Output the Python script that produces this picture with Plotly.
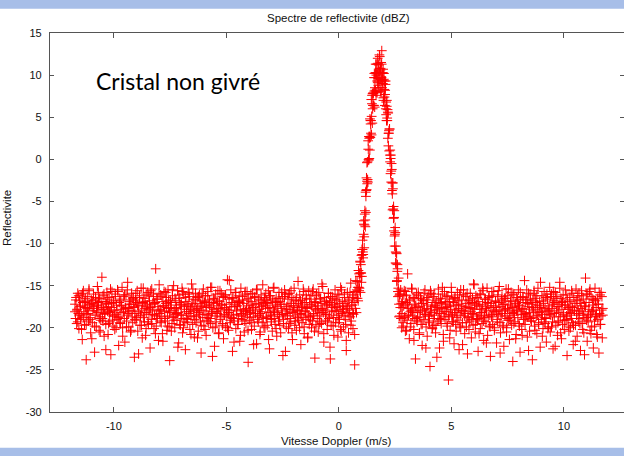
import numpy as np
import plotly.graph_objects as go

# ---- data ----
x_ticks = [-10, -5, 0, 5, 10]
y_ticks = [-30, -25, -20, -15, -10, -5, 0, 5, 10, 15]

left_x_range = (-11.73, 0.70)
peak_x_range = (0.72, 2.79)
right_x_range = (2.805, 11.73)
peak_b_x_range = (0.90, 2.70)

noise_left_y = [
-17.2,-18.9,-16.4,-19.5,-17.8,-15.9,-18.3,-20.1,-16.8,-17.5,-19.0,-16.1,-18.6,-21.4,-17.0,-15.6,-18.1,-19.7,-16.9,-17.6,
-23.8,-18.4,-16.3,-17.9,-19.2,-15.4,-17.3,-18.8,-20.6,-16.7,-17.1,-19.4,-18.0,-16.0,-17.7,-22.9,-18.5,-16.6,-19.9,-17.4,
-15.1,-18.2,-17.0,-20.3,-16.5,-18.7,-19.1,-17.6,-14.0,-18.9,-16.2,-17.8,-21.0,-18.3,-16.9,-19.6,-17.2,-15.8,-18.0,-20.8,
-17.5,-16.4,-19.3,-18.1,-23.2,-17.1,-15.7,-18.6,-19.8,-16.8,-17.9,-20.2,-16.0,-18.4,-17.3,-19.0,-15.5,-18.8,-22.1,-17.0,
-16.6,-19.5,-18.2,-17.4,-15.2,-20.0,-17.8,-16.3,-18.9,-21.7,-17.6,-16.1,-19.2,-18.5,-14.6,-17.7,-19.9,-16.9,-18.0,-20.5,
-17.2,-15.9,-18.7,-19.4,-16.4,-17.5,-23.5,-18.3,-16.7,-19.1,-17.0,-15.6,-20.4,-18.1,-17.4,-16.2,-19.7,-18.6,-15.3,-17.9,
-21.2,-17.1,-18.8,-16.5,-19.3,-17.7,-20.9,-16.0,-18.2,-17.3,-15.8,-19.6,-18.4,-16.8,-22.4,-17.6,-19.0,-15.4,-18.0,-17.2,
-16.3,-20.1,-18.5,-17.0,-13.0,-19.8,-16.6,-18.9,-17.5,-21.5,-15.9,-18.3,-17.8,-16.1,-19.4,-18.7,-20.7,-16.9,-17.4,-15.7,
-18.1,-19.2,-17.1,-16.4,-20.3,-18.6,-15.5,-17.7,-19.9,-23.9,-16.7,-18.0,-17.3,-19.5,-16.2,-18.8,-15.0,-17.9,-20.0,-18.4,
-16.8,-17.6,-19.1,-15.6,-18.2,-21.8,-17.0,-16.5,-19.7,-18.5,-17.2,-15.3,-20.6,-18.9,-16.0,-17.5,-19.3,-22.6,-16.9,-18.1,
-17.4,-19.0,-15.8,-18.3,-16.3,-20.2,-17.8,-18.7,-14.8,-17.1,-19.6,-16.6,-18.0,-21.1,-17.3,-15.9,-19.4,-18.6,-16.4,-17.7,
-20.4,-18.2,-16.1,-17.9,-19.2,-23.0,-17.5,-16.8,-18.8,-15.4,-19.8,-17.0,-18.4,-16.2,-20.9,-17.6,-19.1,-15.7,-18.5,-17.2,
-16.7,-18.9,-19.5,-17.4,-15.2,-18.1,-20.0,-16.5,-17.8,-22.2,-18.6,-16.0,-19.3,-17.1,-18.3,-15.6,-20.7,-17.7,-16.9,-19.0,
-18.0,-15.9,-17.3,-19.7,-16.3,-21.3,-18.4,-17.6,-16.1,-19.9,-17.2,-18.7,-14.3,-18.2,-20.3,-16.6,-17.9,-19.4,-15.5,-18.8,
-17.0,-22.8,-16.4,-18.5,-19.2,-17.5,-15.8,-20.1,-18.0,-16.8,-17.4,-19.6,-18.9,-16.2,-21.6,-17.8,-15.3,-18.3,-19.0,-16.7,
-18.6,-17.1,-20.5,-16.0,-18.1,-19.5,-17.7,-15.7,-18.4,-24.1,-16.5,-17.9,-19.1,-18.2,-16.9,-20.2,-17.3,-15.9,-18.7,-17.6,
-19.8,-16.3,-18.0,-17.2,-21.9,-15.4,-18.5,-19.3,-16.6,-17.8,-20.8,-18.3,-16.1,-17.5,-19.4,-14.9,-18.8,-17.0,-16.4,-20.0,
-17.4,-18.9,-16.8,-19.7,-17.1,-15.6,-18.2,-22.5,-17.6,-16.2,-19.0,-18.6,-20.4,-16.7,-17.9,-15.2,-18.1,-19.6,-17.3,-16.5,
-21.0,-18.4,-17.0,-19.2,-15.8,-18.7,-16.9,-20.6,-17.7,-18.0,-16.3,-23.3,-19.5,-17.2,-15.5,-18.5,-16.0,-19.9,-17.5,-18.3,
-16.6,-20.1,-17.8,-15.9,-18.9,-19.3,-17.1,-16.4,-21.4,-18.2,-17.4,-15.3,-19.7,-18.6,-16.8,-20.3,-17.6,-18.0,-14.5,-19.1,
-17.9,-16.1,-18.4,-22.0,-17.3,-19.4,-16.7,-18.8,-15.7,-20.7,-17.0,-18.1,-19.0,-16.5,-17.7,-21.2,-18.5,-15.6,-19.6,-17.2,
-18.7,-16.2,-20.0,-17.5,-19.2,-15.4,-18.3,-16.9,-23.6,-17.8,-19.8,-16.0,-18.0,-17.4,-20.5,-15.8,-18.6,-19.3,-16.6,-17.1,
-19.5,-17.7,-15.1,-18.2,-21.7,-16.4,-17.9,-19.1,-18.4,-16.8,-20.2,-17.3,-15.9,-18.9,-17.0,-22.3,-16.3,-19.7,-18.1,-17.6,
-16.5,-18.8,-20.9,-17.2,-15.5,-19.4,-18.0,-16.7,-17.5,-21.1,-18.5,-16.1,-19.0,-17.8,-15.2,-20.4,-18.3,-16.9,-17.4,-19.9,
-18.6,-16.0,-17.1,-19.6,-22.7,-17.7,-15.8,-18.2,-20.6,-16.6,-17.9,-18.7,-14.7,-19.2,-17.3,-16.4,-20.1,-18.4,-17.0,-24.4,
]

noise_left_b_y = [
-18.1,-16.7,-17.9,-19.3,-16.2,-18.5,-17.4,-20.2,-15.9,-18.8,-17.0,-16.5,-19.6,-17.7,-18.3,-15.6,-19.0,-17.2,-21.3,-16.8,
-17.5,-19.8,-16.4,-18.0,-17.3,-15.8,-18.9,-20.5,-16.9,-17.8,-19.2,-16.0,-18.4,-22.6,-17.1,-16.6,-19.5,-18.2,-15.4,-17.6,
-19.1,-17.0,-18.6,-16.3,-20.0,-17.9,-15.7,-18.7,-19.4,-16.8,-17.4,-21.0,-18.1,-16.1,-17.7,-19.9,-15.5,-18.3,-17.2,-16.7,
-20.3,-18.0,-16.5,-17.6,-19.0,-15.9,-18.8,-17.3,-23.1,-16.4,-18.5,-19.7,-17.0,-15.3,-18.2,-16.9,-20.1,-17.5,-19.3,-16.2,
-17.8,-15.6,-19.5,-18.4,-16.0,-17.1,-20.7,-18.6,-16.6,-17.9,-14.9,-19.2,-18.0,-16.3,-21.6,-17.4,-18.9,-15.8,-17.6,-19.8,
-16.8,-18.2,-17.0,-20.4,-15.5,-18.7,-19.1,-16.5,-17.7,-18.3,-22.3,-16.1,-19.6,-17.3,-18.5,-15.7,-20.0,-17.8,-16.4,-18.9,
-19.4,-17.2,-16.0,-18.1,-20.8,-17.5,-15.4,-18.6,-19.0,-16.7,-17.9,-21.2,-16.3,-18.4,-17.1,-19.7,-15.9,-18.0,-16.9,-20.2,
-17.4,-18.8,-16.2,-19.3,-17.6,-15.2,-18.3,-23.4,-17.0,-16.6,-19.9,-18.1,-16.8,-17.7,-20.6,-15.6,-18.7,-17.3,-19.5,-16.4,
-18.5,-16.1,-17.8,-20.0,-18.2,-14.4,-19.1,-17.5,-16.5,-18.9,-21.7,-17.2,-15.8,-18.4,-19.6,-16.9,-17.0,-20.9,-18.6,-16.3,
-17.9,-19.2,-15.7,-18.0,-16.7,-20.3,-17.4,-18.8,-16.0,-19.4,-17.6,-22.0,-16.4,-18.3,-15.5,-19.0,-17.1,-18.6,-20.5,-16.8,
-18.1,-17.3,-19.8,-16.6,-15.9,-18.7,-17.7,-21.4,-16.2,-18.5,-19.3,-17.0,-15.3,-18.9,-16.9,-20.1,-17.5,-18.2,-16.5,-19.7,
-17.2,-15.8,-18.4,-19.0,-16.3,-22.8,-17.8,-18.6,-16.0,-19.5,-17.4,-15.6,-20.6,-18.1,-16.7,-17.9,-19.2,-16.4,-18.8,-17.1,
-20.0,-16.8,-18.3,-17.5,-15.4,-19.9,-18.0,-16.1,-17.6,-21.1,-18.7,-16.6,-19.1,-17.3,-15.7,-18.5,-20.4,-17.0,-16.2,-18.9,
-17.7,-19.6,-16.5,-18.2,-14.8,-17.9,-20.7,-16.9,-18.4,-17.2,-19.3,-15.9,-18.6,-23.7,-17.4,-16.3,-19.8,-18.0,-16.7,-17.6,
-18.8,-16.0,-19.4,-17.1,-20.2,-15.5,-18.1,-17.8,-16.4,-19.0,-21.5,-17.5,-16.8,-18.5,-15.8,-19.7,-17.3,-18.3,-16.1,-20.8,
]

peak_y = [
-15.7,-17.7,-14.4,-16.5,-18.2,-15.5,-14.5,-16.5,-15.2,-16.8,-13.2,-15.2,-13.6,-15.3,-13.9,-12.1,-15.8,-12.5,-13.5,-11.4,
-13.9,-11.3,-9.6,-11.0,-11.3,-8.9,-7.7,-10.5,-7.8,-6.1,-7.2,-3.9,-6.3,-3.7,-3.6,-0.4,-2.9,-0.3,-2.7,1.2,
0.0,2.7,0.1,2.7,4.8,2.6,4.2,3.1,7.1,5.1,6.6,4.3,7.8,6.4,7.8,6.4,9.7,8.1,6.2,9.7,
8.2,11.3,8.0,10.0,11.3,7.9,10.3,9.1,11.4,9.6,11.2,8.5,10.4,12.2,9.5,10.6,8.1,11.5,9.7,12.9,
8.5,10.2,9.0,10.7,7.0,9.5,8.3,9.3,6.4,8.2,8.9,6.0,6.8,4.6,7.0,4.9,5.9,2.5,5.5,3.1,
3.1,1.0,3.6,0.5,1.1,-1.7,0.5,-1.4,-0.5,-3.7,-2.8,-6.0,-3.5,-5.9,-5.6,-8.5,-6.1,-9.1,-8.9,-8.7,
-12.3,-10.3,-12.4,-11.2,-14.4,-13.3,-13.0,-16.3,-15.3,-14.1,-17.2,-16.2,-18.6,-16.0,-17.6,-15.5,-18.9,-17.1,-20.0,
]

peak_b_y = [
-15.6,-13.5,-12.2,-13.5,-14.6,-10.7,-10.7,-11.7,-7.3,-9.2,-6.5,-8.0,-4.4,-2.2,-2.6,-2.4,2.2,-0.1,2.5,1.1,
4.6,4.6,2.9,7.6,6.0,7.9,6.4,10.2,8.5,10.3,7.6,10.2,9.3,12.0,8.8,10.5,12.4,9.3,10.8,8.0,
11.3,9.4,10.3,7.3,10.2,7.4,7.7,9.3,5.3,6.3,4.6,5.6,1.6,3.4,3.6,-0.3,0.1,-2.7,-1.2,-4.1,
-2.8,-7.0,-6.9,-10.3,-8.1,-11.0,-11.1,-14.5,-12.5,-15.7,-15.7,-18.7,-16.0,
]

noise_right_y = [
-18.3,-16.9,-19.8,-17.4,-15.6,-18.8,-20.4,-17.0,-16.2,-19.1,-13.6,-18.5,-17.7,-21.3,-16.6,-18.1,-19.5,-15.3,-17.9,-18.6,
-16.4,-20.2,-17.2,-18.9,-23.7,-17.6,-16.0,-19.3,-18.2,-15.8,-17.5,-20.8,-18.7,-16.5,-19.6,-17.1,-22.1,-18.0,-16.8,-19.0,
-17.8,-15.5,-18.4,-19.9,-16.7,-21.0,-17.3,-18.6,-16.1,-19.4,-24.6,-17.9,-15.9,-18.2,-20.0,-17.0,-16.3,-19.7,-18.5,-17.4,
-20.6,-16.8,-18.0,-17.6,-19.2,-15.4,-18.9,-22.4,-17.1,-16.5,-19.5,-18.3,-16.0,-17.7,-21.6,-18.7,-15.7,-19.0,-17.2,-18.1,
-16.2,-19.8,-17.5,-26.2,-18.4,-16.9,-20.3,-17.8,-15.2,-18.6,-19.3,-16.6,-17.0,-21.9,-18.2,-16.4,-19.6,-17.3,-18.8,-15.8,
-19.1,-17.7,-22.6,-16.1,-18.5,-20.0,-17.4,-16.7,-19.4,-18.0,-15.5,-17.9,-20.7,-18.3,-16.3,-19.9,-17.1,-23.1,-18.7,-16.8,
-17.6,-19.2,-15.9,-18.1,-21.2,-17.0,-16.5,-19.7,-18.4,-14.9,-17.8,-20.5,-16.2,-18.9,-17.3,-19.0,-22.8,-16.9,-18.6,-17.5,
-20.1,-16.0,-18.2,-19.5,-17.2,-15.6,-21.5,-18.8,-16.6,-17.7,-19.3,-18.0,-15.3,-20.9,-17.4,-16.4,-19.8,-18.5,-23.4,-17.1,
-18.7,-16.3,-19.6,-17.9,-15.7,-20.3,-18.1,-16.8,-17.6,-21.8,-19.0,-16.1,-18.4,-17.0,-15.1,-19.4,-20.6,-17.5,-16.7,-18.3,
-17.2,-19.9,-22.2,-16.5,-18.6,-17.8,-15.4,-20.0,-18.9,-16.2,-19.1,-17.3,-21.4,-18.0,-16.9,-15.8,-19.7,-17.6,-24.0,-18.2,
-16.0,-18.5,-19.3,-17.1,-20.8,-16.4,-17.9,-18.8,-15.5,-19.5,-17.4,-22.9,-16.6,-18.1,-20.2,-17.7,-16.3,-19.0,-18.4,-14.4,
-19.6,-17.0,-18.3,-16.7,-21.1,-18.7,-15.9,-17.5,-20.4,-16.1,-18.9,-19.2,-17.2,-23.8,-16.8,-18.0,-15.6,-19.8,-17.8,-16.5,
-18.6,-20.7,-17.3,-15.3,-19.4,-18.2,-16.9,-22.3,-17.6,-19.0,-16.2,-18.4,-20.1,-17.1,-15.7,-18.8,-19.5,-16.4,-21.7,-17.9,
-16.6,-18.1,-19.9,-17.4,-15.2,-20.5,-18.5,-16.0,-17.7,-19.3,-22.5,-16.8,-18.3,-17.0,-15.8,-19.7,-18.0,-16.3,-20.9,-17.5,
-19.2,-17.2,-14.6,-18.7,-16.5,-21.3,-17.8,-19.6,-16.1,-18.4,-20.2,-17.3,-15.5,-19.1,-18.6,-23.3,-16.7,-17.6,-19.8,-18.2,
-16.9,-20.0,-17.5,-18.9,-15.9,-19.4,-22.0,-16.4,-18.0,-17.1,-19.7,-15.4,-18.5,-21.0,-16.2,-17.9,-19.3,-18.3,-16.8,-22.7,
-17.7,-15.6,-19.5,-18.1,-16.6,-20.6,-17.4,-18.8,-14.1,-17.0,-19.1,-21.6,-16.0,-18.4,-17.8,-15.7,-20.3,-18.6,-16.3,-19.9,
-18.0,-17.3,-22.4,-16.7,-19.2,-15.3,-18.7,-17.6,-20.8,-16.5,-19.0,-17.2,-23.0,-18.3,-16.1,-19.6,-15.8,-17.9,-21.2,-18.5,
]

noise_right_b_y = [
-17.6,-19.4,-16.1,-18.7,-15.7,-20.3,-17.2,-18.5,-16.8,-19.9,-17.9,-15.4,-18.2,-21.5,-16.5,-17.4,-19.1,-18.8,-16.2,-20.6,
-18.0,-16.7,-19.6,-17.1,-15.9,-18.4,-22.4,-17.7,-16.4,-19.2,-18.6,-15.6,-17.5,-20.1,-18.9,-16.0,-17.3,-19.7,-23.5,-17.8,
-16.6,-18.3,-19.0,-17.0,-15.2,-20.8,-18.1,-16.9,-17.6,-19.5,-16.3,-18.7,-21.2,-17.4,-15.8,-18.5,-19.3,-16.5,-17.9,-20.4,
-18.2,-16.8,-17.2,-19.8,-15.5,-18.0,-22.0,-16.1,-18.6,-17.5,-19.4,-15.9,-18.8,-20.2,-16.7,-17.7,-19.0,-18.3,-14.8,-17.1,
-19.6,-17.3,-16.4,-18.9,-20.7,-16.0,-18.2,-17.8,-15.3,-19.2,-18.5,-16.6,-21.8,-17.0,-18.7,-16.2,-19.9,-17.6,-15.7,-18.4,
-17.4,-20.0,-16.9,-18.1,-19.3,-15.6,-17.9,-23.0,-18.6,-16.3,-19.7,-17.2,-18.0,-16.5,-20.5,-17.7,-15.4,-18.8,-19.1,-16.8,
-18.3,-16.1,-19.5,-17.5,-21.3,-18.0,-16.7,-17.3,-19.8,-15.8,-18.4,-20.9,-16.4,-17.8,-19.0,-18.6,-15.5,-17.1,-22.7,-18.2,
-16.6,-19.2,-17.6,-18.8,-15.9,-20.3,-17.0,-16.2,-18.5,-19.6,-17.4,-14.6,-18.1,-21.0,-16.8,-19.3,-17.7,-18.9,-16.0,-20.1,
-17.9,-18.4,-16.3,-19.9,-17.2,-15.7,-18.7,-22.2,-16.5,-17.5,-19.4,-18.2,-15.3,-20.6,-17.0,-16.9,-18.6,-19.1,-17.3,-16.1,
-19.0,-17.8,-20.4,-16.4,-18.3,-15.6,-17.6,-19.7,-18.0,-21.6,-16.7,-17.4,-18.9,-15.9,-19.5,-17.1,-16.2,-20.2,-18.5,-23.2,
-17.5,-16.0,-18.8,-19.3,-17.0,-15.4,-20.7,-18.1,-16.6,-17.9,-19.8,-16.8,-18.4,-21.1,-17.2,-15.8,-19.6,-18.6,-16.3,-17.7,
]

# evenly spaced Doppler bins for each segment
x_all = np.concatenate([
    np.linspace(*left_x_range, len(noise_left_y)),
    np.linspace(*left_x_range, len(noise_left_b_y)),
    np.linspace(*peak_x_range, len(peak_y)),
    np.linspace(*peak_b_x_range, len(peak_b_y)),
    np.linspace(*right_x_range, len(noise_right_y)),
    np.linspace(*right_x_range, len(noise_right_b_y)),
])
y_all = noise_left_y + noise_left_b_y + peak_y + peak_b_y + noise_right_y + noise_right_b_y

# ---- figure ----
W, H = 624, 456
ML, MR, MT, MB = 50, 0, 33, 44
PW, PH = W - ML - MR, H - MT - MB

def px_x(p):
    return (p - ML) / PW

def px_y(p):
    return (H - MB - p) / PH

RED = "#ff0000"
AXC = "#555555"
FONT = "Liberation Sans, Arial, sans-serif"

fig = go.Figure()
fig.add_trace(go.Scatter(
    x=x_all, y=y_all, mode="markers",
    marker=dict(symbol="cross-thin", size=7, color=RED,
                line=dict(color=RED, width=1.0)),
    showlegend=False, hoverinfo="skip",
))
fig.add_trace(go.Scatter(x=[None], y=[None], yaxis="y2", showlegend=False,
                         hoverinfo="skip"))

fig.update_layout(
    width=W, height=H,
    margin=dict(l=ML, r=MR, t=MT, b=MB, pad=0),
    paper_bgcolor="white", plot_bgcolor="white",
    font=dict(family=FONT, size=11, color="#111111"),
    xaxis=dict(range=[-12.84, 12.67], tickvals=x_ticks, ticktext=[str(v) for v in x_ticks],
               showgrid=False, zeroline=False, showline=True, linecolor=AXC, linewidth=1.3,
               mirror="ticks", ticks="inside", ticklen=5, tickcolor=AXC, tickwidth=1.3,
               ticklabelstandoff=4, tickfont=dict(size=11, color="#111111")),
    yaxis=dict(range=[-30, 15], tickvals=y_ticks, ticktext=[str(v) for v in y_ticks],
               showgrid=False, zeroline=False, showline=True, linecolor=AXC, linewidth=1.3,
               mirror=False, ticks="inside", ticklen=4, tickcolor=AXC, tickwidth=1.3,
               ticklabelstandoff=5, tickfont=dict(size=11, color="#111111")),
    yaxis2=dict(range=[-30, 15], overlaying="y", side="right", tickvals=y_ticks,
                showticklabels=False, showgrid=False, zeroline=False, showline=False,
                ticks="inside", ticklen=4, tickcolor=AXC, tickwidth=1.3),
    shapes=[
        dict(type="rect", xref="paper", yref="paper", x0=px_x(0), x1=px_x(W),
             y0=px_y(8.7), y1=px_y(0), fillcolor="#a7bee8", line=dict(width=0), layer="above"),
        dict(type="rect", xref="paper", yref="paper", x0=px_x(0), x1=px_x(W),
             y0=px_y(H), y1=px_y(447.7), fillcolor="#a7bee8", line=dict(width=0), layer="above"),
    ],
    annotations=[
        dict(text="Spectre de reflectivite (dBZ)", xref="paper", yref="paper",
             x=px_x(338), y=px_y(18), xanchor="center", yanchor="middle", showarrow=False,
             font=dict(family=FONT, size=11.5, color="#111111")),
        dict(text="Vitesse Doppler (m/s)", xref="paper", yref="paper",
             x=px_x(336), y=px_y(441), xanchor="center", yanchor="middle", showarrow=False,
             font=dict(family=FONT, size=11.5, color="#111111")),
        dict(text="Reflectivite", xref="paper", yref="paper", textangle=-90,
             x=px_x(7), y=px_y(218), xanchor="center", yanchor="middle", showarrow=False,
             font=dict(family=FONT, size=11.5, color="#111111")),
        dict(text="Cristal non givré", xref="paper", yref="paper",
             x=px_x(178), y=px_y(81), xanchor="center", yanchor="middle", showarrow=False,
             font=dict(family="Lato, Open Sans, sans-serif", size=23, color="#000000")),
    ],
)

fig.write_html("out.html")
